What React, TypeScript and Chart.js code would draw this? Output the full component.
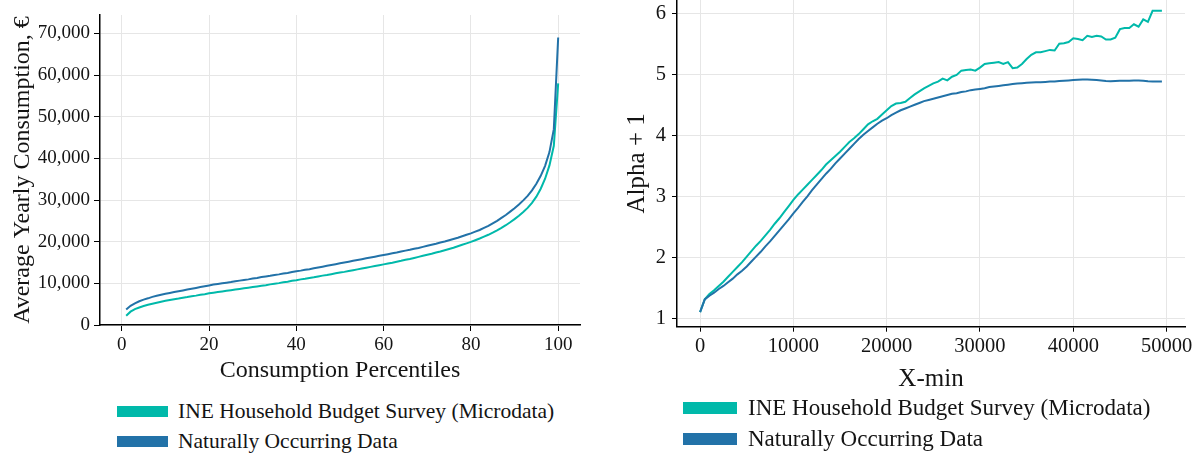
import React, { useEffect, useRef } from "react";
import { Chart, registerables } from "chart.js";
Chart.register(...registerables);

const FONT = '"Liberation Serif", "Times New Roman", serif';
const TEAL = "#00b9aa";
const BLUE = "#2272a8";
const GRID = "#e6e6e6";
const TEXT = "#141414";

const seriesNames = ["INE Household Budget Survey (Microdata)", "Naturally Occurring Data"];

// Left chart: consumption percentiles
const percentiles = [
  1, 2, 3, 4, 5, 6, 7, 8, 9, 10, 11, 12, 13, 14, 15, 16, 17, 18, 19, 20,
  21, 22, 23, 24, 25, 26, 27, 28, 29, 30, 31, 32, 33, 34, 35, 36, 37, 38, 39, 40,
  41, 42, 43, 44, 45, 46, 47, 48, 49, 50, 51, 52, 53, 54, 55, 56, 57, 58, 59, 60,
  61, 62, 63, 64, 65, 66, 67, 68, 69, 70, 71, 72, 73, 74, 75, 76, 77, 78, 79, 80,
  81, 82, 83, 84, 85, 86, 87, 88, 89, 90, 91, 92, 93, 94, 95, 96, 97, 98, 99, 100,
];
const ineConsumption = [
  2200, 3200, 3800, 4200, 4550, 4850, 5100, 5350, 5600, 5800,
  6000, 6200, 6350, 6550, 6700, 6900, 7050, 7250, 7400, 7600,
  7750, 7900, 8050, 8200, 8350, 8500, 8650, 8800, 8950, 9100,
  9250, 9400, 9550, 9750, 9900, 10050, 10250, 10400, 10600, 10750,
  10950, 11100, 11300, 11450, 11650, 11850, 12000, 12200, 12400, 12600,
  12750, 12950, 13150, 13350, 13550, 13750, 13950, 14150, 14350, 14550,
  14750, 14950, 15200, 15400, 15650, 15850, 16100, 16350, 16600, 16850,
  17100, 17400, 17650, 17950, 18250, 18550, 18900, 19250, 19600, 19950,
  20350, 20750, 21200, 21650, 22150, 22700, 23300, 23950, 24650, 25400,
  26200, 27100, 28100, 29300, 30800, 32700, 35100, 38300, 43000, 58000,
];
const naturalConsumption = [
  3700, 4600, 5200, 5700, 6100, 6400, 6750, 7000, 7250, 7500,
  7700, 7900, 8100, 8300, 8500, 8700, 8900, 9100, 9300, 9500,
  9700, 9850, 10000, 10150, 10300, 10500, 10650, 10800, 10950, 11150,
  11300, 11500, 11650, 11800, 12000, 12150, 12350, 12500, 12700, 12900,
  13050, 13250, 13400, 13600, 13800, 14000, 14200, 14400, 14600, 14800,
  15000, 15200, 15400, 15600, 15800, 16000, 16200, 16400, 16600, 16800,
  17000, 17200, 17400, 17650, 17850, 18050, 18300, 18500, 18750, 19000,
  19250, 19500, 19800, 20050, 20350, 20650, 20950, 21300, 21650, 22000,
  22400, 22800, 23300, 23800, 24400, 25000, 25700, 26400, 27200, 28000,
  28900, 29900, 31000, 32300, 33900, 35800, 38200, 41500, 47000, 69000,
];
const pctTicks = [0, 20, 40, 60, 80, 100];
const consumptionTicks = [0, 10000, 20000, 30000, 40000, 50000, 60000, 70000];

// Right chart: alpha + 1 versus x-min
const xMin = [
  0, 500, 1000, 1500, 2000, 2500, 3000, 3500, 4000, 4500,
  5000, 5500, 6000, 6500, 7000, 7500, 8000, 8500, 9000, 9500,
  10000, 10500, 11000, 11500, 12000, 12500, 13000, 13500, 14000, 14500,
  15000, 15500, 16000, 16500, 17000, 17500, 18000, 18500, 19000, 19500,
  20000, 20500, 21000, 21500, 22000, 22500, 23000, 23500, 24000, 24500,
  25000, 25500, 26000, 26500, 27000, 27500, 28000, 28500, 29000, 29500,
  30000, 30500, 31000, 31500, 32000, 32500, 33000, 33500, 34000, 34500,
  35000, 35500, 36000, 36500, 37000, 37500, 38000, 38500, 39000, 39500,
  40000, 40500, 41000, 41500, 42000, 42500, 43000, 43500, 44000, 44500,
  45000, 45500, 46000, 46500, 47000, 47500, 48000, 48500, 49000, 49500,
];
const ineAlpha = [
  1.10, 1.31, 1.40, 1.46, 1.53, 1.60, 1.68, 1.76, 1.84, 1.92,
  2.01, 2.10, 2.19, 2.27, 2.36, 2.45, 2.55, 2.64, 2.74, 2.84,
  2.94, 3.03, 3.11, 3.19, 3.27, 3.35, 3.43, 3.52, 3.59, 3.66,
  3.73, 3.81, 3.89, 3.95, 4.02, 4.10, 4.18, 4.23, 4.27, 4.34,
  4.41, 4.48, 4.52, 4.53, 4.55, 4.61, 4.67, 4.72, 4.77, 4.81,
  4.85, 4.88, 4.93, 4.90, 4.96, 4.99, 5.06, 5.07, 5.08, 5.06,
  5.11, 5.17, 5.18, 5.19, 5.20, 5.17, 5.20, 5.10, 5.11, 5.17,
  5.25, 5.32, 5.36, 5.36, 5.38, 5.40, 5.39, 5.50, 5.51, 5.53,
  5.59, 5.58, 5.56, 5.63, 5.61, 5.63, 5.62, 5.57, 5.57, 5.60,
  5.74, 5.76, 5.76, 5.82, 5.78, 5.90, 5.86, 6.04, 6.04, 6.04,
];
const naturalAlpha = [
  1.10, 1.31, 1.37, 1.42, 1.48, 1.53, 1.59, 1.65, 1.72, 1.78,
  1.85, 1.93, 2.01, 2.09, 2.18, 2.26, 2.35, 2.44, 2.53, 2.62,
  2.72, 2.81, 2.91, 3.00, 3.10, 3.19, 3.28, 3.37, 3.45, 3.54,
  3.62, 3.70, 3.78, 3.86, 3.94, 4.01, 4.07, 4.13, 4.19, 4.24,
  4.28, 4.33, 4.37, 4.41, 4.44, 4.47, 4.50, 4.53, 4.56, 4.58,
  4.60, 4.62, 4.64, 4.66, 4.68, 4.69, 4.71, 4.72, 4.74, 4.75,
  4.76, 4.77, 4.79, 4.80, 4.81, 4.82, 4.83, 4.84, 4.85, 4.855,
  4.86, 4.865, 4.87, 4.87, 4.875, 4.88, 4.88, 4.89, 4.895, 4.90,
  4.905, 4.91, 4.915, 4.915, 4.91, 4.905, 4.90, 4.89, 4.885, 4.89,
  4.895, 4.895, 4.895, 4.90, 4.90, 4.895, 4.885, 4.88, 4.88, 4.88,
];
const xMinTicks = [0, 10000, 20000, 30000, 40000, 50000];
const alphaTicks = [1, 2, 3, 4, 5, 6];

function pairs(xs: number[], ys: number[]) {
  return xs.map((x, i) => ({ x, y: ys[i] }));
}

type AxisCfg = {
  min: number;
  max: number;
  ticks: number[];
  fmt: (v: number) => string;
  title: string;
  tickSize: number;
  titleSize: number;
  size: number;
  titlePad: number;
  tickPad: number;
  tickLen: number;
};

function axis(kind: "x" | "y", c: AxisCfg) {
  return {
    type: "linear",
    position: kind === "x" ? "bottom" : "left",
    min: c.min,
    max: c.max,
    afterBuildTicks: (s: any) => {
      s.ticks = c.ticks.map((v) => ({ value: v }));
    },
    afterFit: (s: any) => {
      if (kind === "x") s.height = c.size;
      else s.width = c.size;
      s.paddingLeft = 0;
      s.paddingRight = 0;
      s.paddingTop = 0;
      s.paddingBottom = 0;
    },
    grid: {
      color: GRID,
      lineWidth: 1,
      drawTicks: true,
      tickLength: c.tickLen,
      tickColor: "#000",
      tickWidth: 1,
    },
    border: { display: true, color: "#000", width: 1.5 },
    ticks: {
      color: TEXT,
      autoSkip: false,
      maxRotation: 0,
      padding: c.tickPad,
      font: { family: FONT, size: c.tickSize },
      callback: (v: any) => c.fmt(Number(v)),
    },
    title: {
      display: true,
      text: c.title,
      color: TEXT,
      font: { family: FONT, size: c.titleSize },
      padding: kind === "x" ? { top: 0, bottom: c.titlePad } : { top: c.titlePad, bottom: 0 },
    },
  };
}

function LineChart(props: {
  width: number;
  height: number;
  left: number;
  padding: { left: number; right: number; top: number; bottom: number };
  datasets: any[];
  x: any;
  y: any;
}) {
  const ref = useRef<HTMLCanvasElement | null>(null);
  useEffect(() => {
    if (!ref.current) return;
    const chart = new Chart(ref.current, {
      type: "line",
      data: { datasets: props.datasets },
      options: {
        responsive: false,
        animation: false,
        devicePixelRatio: 1,
        layout: { padding: props.padding },
        plugins: { legend: { display: false }, tooltip: { enabled: false } },
        elements: { point: { radius: 0 }, line: { tension: 0 } },
        scales: { x: props.x, y: props.y },
      } as any,
    });
    return () => chart.destroy();
  }, []);
  return (
    <canvas
      ref={ref}
      width={props.width}
      height={props.height}
      style={{ position: "absolute", left: props.left, top: 0, width: props.width, height: props.height }}
    />
  );
}

function Legend(props: { left: number; centers: number[]; fontSize: number; patchW: number; patchH: number; textLeft: number }) {
  const colors = [TEAL, BLUE];
  return (
    <>
      {seriesNames.map((name, i) => (
        <React.Fragment key={name}>
          <div
            style={{
              position: "absolute",
              left: props.left,
              top: props.centers[i] - props.patchH / 2,
              width: props.patchW,
              height: props.patchH,
              background: colors[i],
            }}
          />
          <div
            style={{
              position: "absolute",
              left: props.textLeft,
              top: props.centers[i] - 15,
              height: 30,
              lineHeight: "30px",
              fontFamily: FONT,
              fontSize: props.fontSize,
              color: TEXT,
              whiteSpace: "nowrap",
            }}
          >
            {name}
          </div>
        </React.Fragment>
      ))}
    </>
  );
}

export default function App() {
  const lineDs = (label: string, data: any[], color: string, order: number) => ({
    label,
    data,
    borderColor: color,
    backgroundColor: color,
    borderWidth: 2,
    pointRadius: 0,
    fill: false,
    order,
  });

  const leftDatasets = [
    lineDs(seriesNames[0], pairs(percentiles, ineConsumption), TEAL, 1),
    lineDs(seriesNames[1], pairs(percentiles, naturalConsumption), BLUE, 0),
  ];
  const rightDatasets = [
    lineDs(seriesNames[0], pairs(xMin, ineAlpha), TEAL, 1),
    lineDs(seriesNames[1], pairs(xMin, naturalAlpha), BLUE, 0),
  ];

  const leftX = axis("x", {
    min: -5, max: 105, ticks: pctTicks, fmt: (v) => String(v),
    title: "Consumption Percentiles", tickSize: 19, titleSize: 24,
    size: 65, titlePad: 5, tickPad: 3, tickLen: 6,
  });
  const leftY = axis("y", {
    min: 0, max: 74400, ticks: consumptionTicks, fmt: (v) => v.toLocaleString("en-US"),
    title: "Average Yearly Consumption, €", tickSize: 19, titleSize: 24,
    size: 100, titlePad: 8.6, tickPad: 4, tickLen: 6,
  });
  const rightX = axis("x", {
    min: -2475, max: 51975, ticks: xMinTicks, fmt: (v) => String(v),
    title: "X-min", tickSize: 20.5, titleSize: 25,
    size: 68.3, titlePad: 1, tickPad: 3, tickLen: 5,
  });
  const rightY = axis("y", {
    min: 0.862, max: 6.218, ticks: alphaTicks, fmt: (v) => String(v),
    title: "Alpha + 1", tickSize: 20.5, titleSize: 25,
    size: 77, titlePad: 22, tickPad: 6, tickLen: 5,
  });

  return (
    <div style={{ position: "absolute", left: 0, top: 0, width: 1200, height: 455, background: "#fff", overflow: "hidden" }}>
      <LineChart
        width={585}
        height={390}
        left={0}
        padding={{ left: 0, right: 5, top: 15, bottom: 0 }}
        datasets={leftDatasets}
        x={leftX}
        y={leftY}
      />
      <LineChart
        width={600}
        height={395}
        left={600}
        padding={{ left: 0, right: 15, top: 0, bottom: 0 }}
        datasets={rightDatasets}
        x={rightX}
        y={rightY}
      />
      <Legend left={117} centers={[411.3, 441.3]} fontSize={21.5} patchW={51} patchH={11} textLeft={178} />
      <Legend left={683} centers={[407.5, 439]} fontSize={23} patchW={54} patchH={12} textLeft={748} />
    </div>
  );
}
